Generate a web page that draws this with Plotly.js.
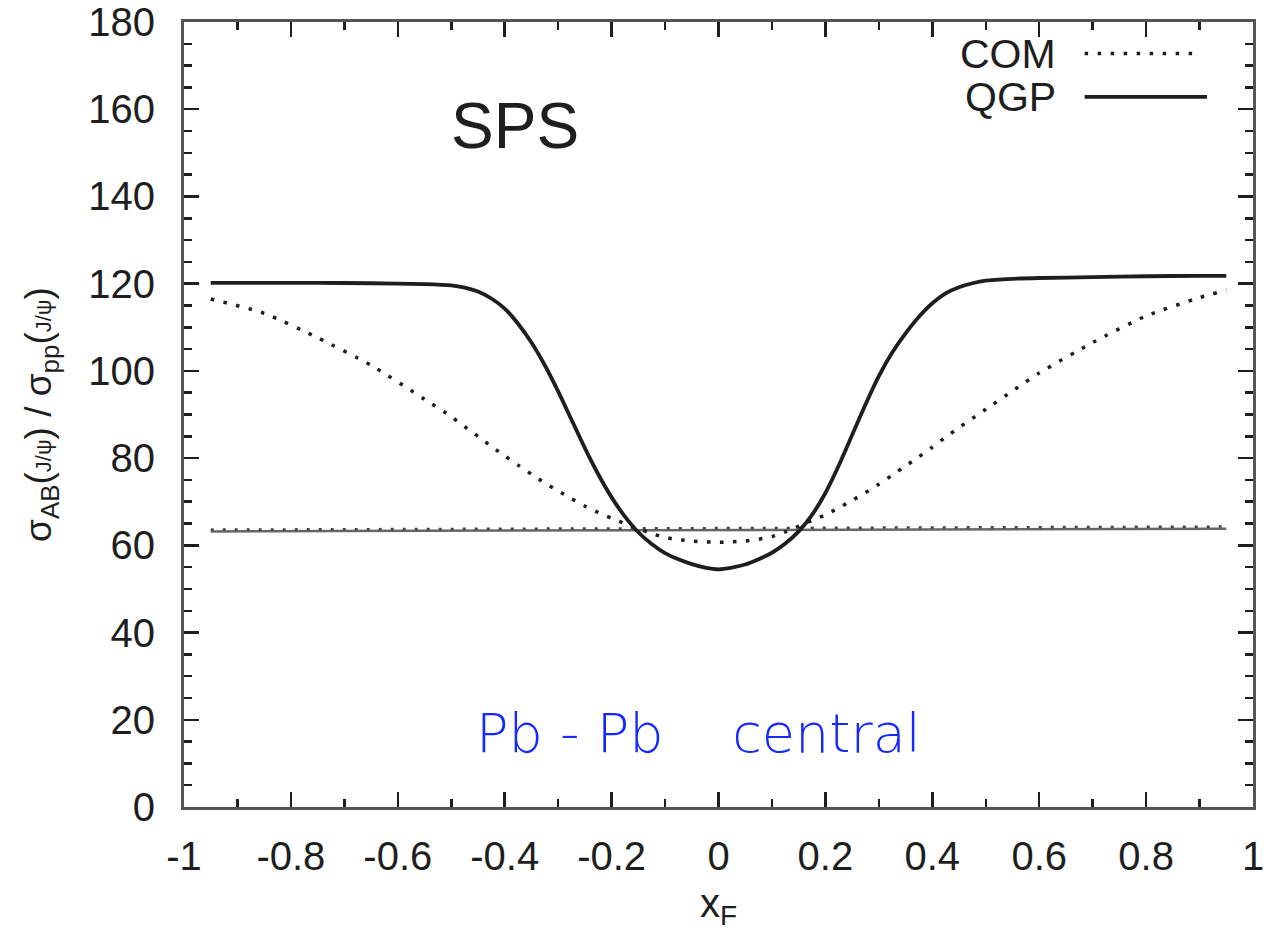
<!DOCTYPE html>
<html>
<head>
<meta charset="utf-8">
<script src="https://cdn.plot.ly/plotly-3.0.1.min.js"></script>
<style>body{margin:0;background:#fff;} #plot{width:1266px;height:940px;}</style>
</head>
<body>
<div id="plot"></div>
<script>
// x_F sample points
const xF = [-0.95, -0.85, -0.75, -0.65, -0.55, -0.5, -0.475, -0.45, -0.425, -0.4, -0.375, -0.35, -0.325, -0.3, -0.275, -0.25, -0.225, -0.2, -0.175, -0.15, -0.125, -0.1, -0.075, -0.05, -0.025, 0, 0.025, 0.05, 0.075, 0.1, 0.125, 0.15, 0.175, 0.2, 0.225, 0.25, 0.275, 0.3, 0.325, 0.35, 0.375, 0.4, 0.425, 0.45, 0.475, 0.5, 0.55, 0.6, 0.7, 0.8, 0.9, 0.95];
// QGP (solid)
const qgp = [120.2, 120.2, 120.2, 120.1, 119.9, 119.6, 119.1, 118.2, 116.6, 114.3, 110.8, 106.5, 101.3, 95.3, 88.8, 82.3, 76.3, 71.0, 66.6, 63.0, 60.3, 58.2, 56.8, 55.7, 54.9, 54.5, 54.9, 55.6, 56.8, 58.3, 60.4, 63.2, 67.0, 72.0, 78.3, 85.3, 92.3, 98.8, 104.2, 108.6, 112.4, 115.5, 117.8, 119.2, 120.1, 120.7, 121.1, 121.3, 121.5, 121.7, 121.8, 121.8];
// COM (dotted)
const com = [116.5, 113.2, 107.6, 101.3, 93.5, 89.5, 87.2, 85.0, 82.7, 80.5, 78.4, 76.3, 74.3, 72.5, 70.7, 69.0, 67.5, 66.2, 65.0, 63.8, 62.7, 61.8, 61.3, 61.0, 60.8, 60.7, 60.8, 61.0, 61.4, 62.0, 63.1, 64.4, 65.7, 67.0, 68.6, 70.3, 72.1, 74.0, 76.1, 78.2, 80.3, 82.5, 84.8, 87.0, 89.1, 91.2, 95.4, 99.5, 106.5, 112.6, 116.8, 118.5];
// horizontal reference levels
const baseX = [-0.95, 0.95];
const baseQGP = [63.2, 63.8];
const baseCOM = [63.6, 64.3];

const xTickVals = [-1, -0.8, -0.6, -0.4, -0.2, 0, 0.2, 0.4, 0.6, 0.8, 1];
const xTickText = ['-1', '-0.8', '-0.6', '-0.4', '-0.2', '0', '0.2', '0.4', '0.6', '0.8', '1'];
const yTickVals = [0, 20, 40, 60, 80, 100, 120, 140, 160, 180];

const seriesNames = ['COM', 'QGP'];
const labelText = 'SPS';
const noteText = 'Pb - Pb&nbsp;&nbsp;&nbsp;&nbsp;central';

const ink = '#1e1e1e';
const traces = [
  {x: baseX, y: baseQGP, mode: 'lines', line: {color: '#666', width: 2.5}, showlegend: false, hoverinfo: 'skip'},
  {x: baseX, y: baseCOM, mode: 'lines', line: {color: '#444', width: 2.5, dash: '3px,9px'}, showlegend: false, hoverinfo: 'skip'},
  {x: xF, y: com, mode: 'lines', name: seriesNames[0], line: {color: ink, width: 3.5, dash: '3.5px,9.5px', shape: 'spline', smoothing: 0.6}, showlegend: false},
  {x: xF, y: qgp, mode: 'lines', name: seriesNames[1], line: {color: ink, width: 3.8, shape: 'spline', smoothing: 0.6}, showlegend: false}
];

const axisCommon = {
  showline: true, linecolor: '#555', linewidth: 3, mirror: 'ticks',
  ticks: 'inside', ticklen: 15, tickwidth: 2.5, tickcolor: ink,
  showgrid: false, zeroline: false, ticklabeloverflow: 'allow',
  tickfont: {family: 'Liberation Sans, Arial, sans-serif', size: 40, color: ink}
};

const layout = {
  width: 1266, height: 940,
  margin: {l: 184, r: 13, t: 22, b: 133},
  paper_bgcolor: '#fff', plot_bgcolor: '#fff',
  showlegend: false,
  xaxis: Object.assign({}, axisCommon, {
    range: [-1, 1], tickvals: xTickVals, ticktext: xTickText,
    ticklabelstandoff: 12,
    minor: {dtick: 0.1, tick0: 0, ticks: 'inside', ticklen: 8, tickwidth: 2.5, tickcolor: ink},
    title: {text: 'x<sub>F</sub>', standoff: 12, font: {family: 'Liberation Sans, Arial, sans-serif', size: 40, color: ink}}
  }),
  yaxis: Object.assign({}, axisCommon, {
    range: [0, 180], tickvals: yTickVals,
    ticklabelstandoff: 18,
    minor: {dtick: 5, tick0: 0, ticks: 'inside', ticklen: 8, tickwidth: 2.5, tickcolor: ink},
    title: {text: 'σ<sub>AB</sub>(<span style="font-size:22px">J/ψ</span>) / σ<sub>pp</sub>(<span style="font-size:22px">J/ψ</span>)', standoff: 26, font: {family: 'Liberation Sans, Arial, sans-serif', size: 37, color: ink}}
  }),
  annotations: [
    {xref: 'paper', yref: 'paper', x: 0.310, y: 0.8675, text: labelText, showarrow: false, xanchor: 'center', yanchor: 'middle',
     font: {family: 'Liberation Sans, Arial, sans-serif', size: 64, color: ink}},
    {xref: 'paper', yref: 'paper', x: 0.818, y: 0.959, text: seriesNames[0], showarrow: false, xanchor: 'right', yanchor: 'middle',
     font: {family: 'Liberation Sans, Arial, sans-serif', size: 41, color: ink}},
    {xref: 'paper', yref: 'paper', x: 0.818, y: 0.9045, text: seriesNames[1], showarrow: false, xanchor: 'right', yanchor: 'middle',
     font: {family: 'Liberation Sans, Arial, sans-serif', size: 41, color: ink}},
    {xref: 'paper', yref: 'paper', x: 0.481, y: 0.094, text: noteText, showarrow: false, xanchor: 'center', yanchor: 'middle',
     font: {family: 'DejaVu Sans, sans-serif', size: 54, color: '#1428ff', weight: 300}}
  ],
  shapes: [
    {type: 'line', xref: 'paper', yref: 'paper', x0: 0.8425, x1: 0.950, y0: 0.960, y1: 0.960, line: {color: ink, width: 3.5, dash: '3.5px,9.5px'}},
    {type: 'line', xref: 'paper', yref: 'paper', x0: 0.8425, x1: 0.957, y0: 0.9045, y1: 0.9045, line: {color: ink, width: 3.8}}
  ]
};

Plotly.newPlot('plot', traces, layout, {staticPlot: true});
</script>
</body>
</html>
